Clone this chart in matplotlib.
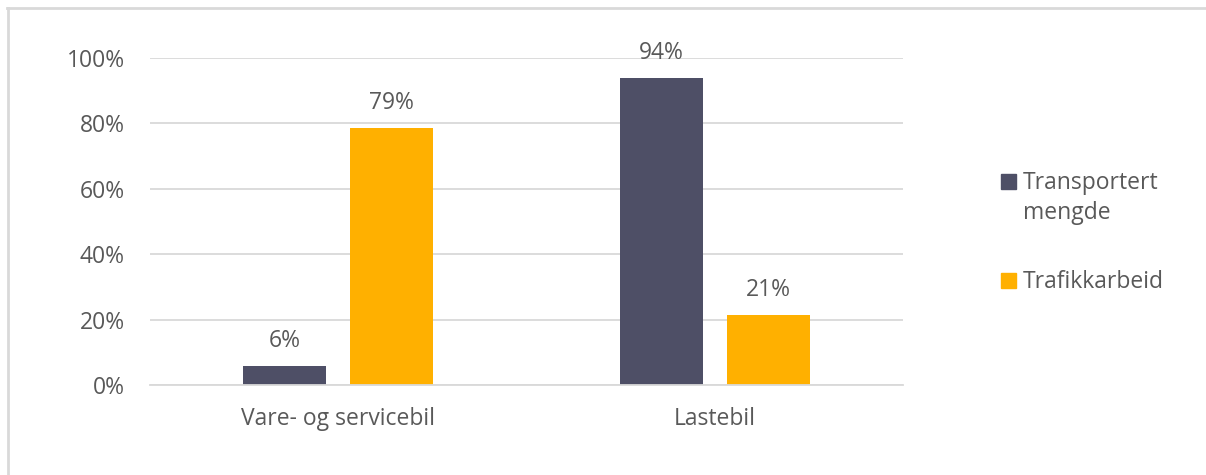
import matplotlib
matplotlib.use("Agg")
import matplotlib.pyplot as plt
from matplotlib.patches import Rectangle
from matplotlib.lines import Line2D
import numpy as np

categories = ["Vare- og servicebil", "Lastebil"]
series_names = ["Transportert\nmengde", "Trafikkarbeid"]
transportert = [0.058, 0.939]
trafikkarbeid = [0.786, 0.214]
value_labels_t = ["6%", "94%"]
value_labels_f = ["79%", "21%"]
yticks = [0, 0.2, 0.4, 0.6, 0.8, 1.0]
ytick_labels = ["0%", "20%", "40%", "60%", "80%", "100%"]

dark = "#4E4F66"
orange = "#FFB000"
text_col = "#595959"
grid_col = "#D9D9D9"
fs = 16.5

plt.rcParams["font.family"] = ["Open Sans", "DejaVu Sans"]

W, H = 1206, 475
fig = plt.figure(figsize=(W / 100, H / 100), dpi=100)
ax = fig.add_axes([150 / W, (H - 385) / H, (903 - 150) / W, (385 - 58) / H])

x = np.arange(len(categories))
bw = 0.22
off = 0.142
b1 = ax.bar(x - off, transportert, bw, color=dark, zorder=3)
b2 = ax.bar(x + off, trafikkarbeid, bw, color=orange, zorder=3)

for bars, labels in ((b1, value_labels_t), (b2, value_labels_f)):
    for rect, lab in zip(bars, labels):
        ax.annotate(lab, (rect.get_x() + rect.get_width() / 2, rect.get_height()),
                    xytext=(0, 13.5), textcoords="offset points",
                    ha="center", va="baseline", fontsize=fs, color=text_col)

ax.set_xlim(-0.5, 1.5)
ax.set_ylim(0, 1.0)
ax.set_yticks(yticks)
ax.set_yticklabels(ytick_labels)
ax.set_xticks(x)
ax.set_xticklabels(categories)
ax.tick_params(axis="y", length=0, pad=18, labelsize=fs, labelcolor=text_col)
ax.tick_params(axis="x", length=0, pad=16, labelsize=fs, labelcolor=text_col)
ax.grid(axis="y", color=grid_col, linewidth=1.3, zorder=0)
for s in ("top", "right", "left"):
    ax.spines[s].set_visible(False)
ax.spines["bottom"].set_color(grid_col)
ax.spines["bottom"].set_linewidth(1.3)
ax.spines["bottom"].set_zorder(4)

# legend drawn in figure pixel space
ft = fig.transFigure
for (y0, col) in ((174, dark), (273, orange)):
    fig.patches.append(Rectangle((1001 / W, (H - y0 - 15) / H), 15 / W, 15 / H,
                                 transform=ft, color=col, figure=fig))
fig.text(1023 / W, (H - 189) / H, "Transportert", transform=ft, fontsize=fs,
         color=text_col, va="baseline", ha="left")
fig.text(1023 / W, (H - 219) / H, "mengde", transform=ft, fontsize=fs,
         color=text_col, va="baseline", ha="left")
fig.text(1023 / W, (H - 288) / H, "Trafikkarbeid", transform=ft, fontsize=fs,
         color=text_col, va="baseline", ha="left")

# chart frame (top and left edges)
fig.add_artist(Line2D([7 / W, 1], [(H - 7.5) / H] * 2, transform=ft, color=grid_col, lw=2))
fig.add_artist(Line2D([7.5 / W] * 2, [0, (H - 7.5) / H], transform=ft, color=grid_col, lw=2))

fig.savefig("out.png", dpi=100, facecolor="white")
